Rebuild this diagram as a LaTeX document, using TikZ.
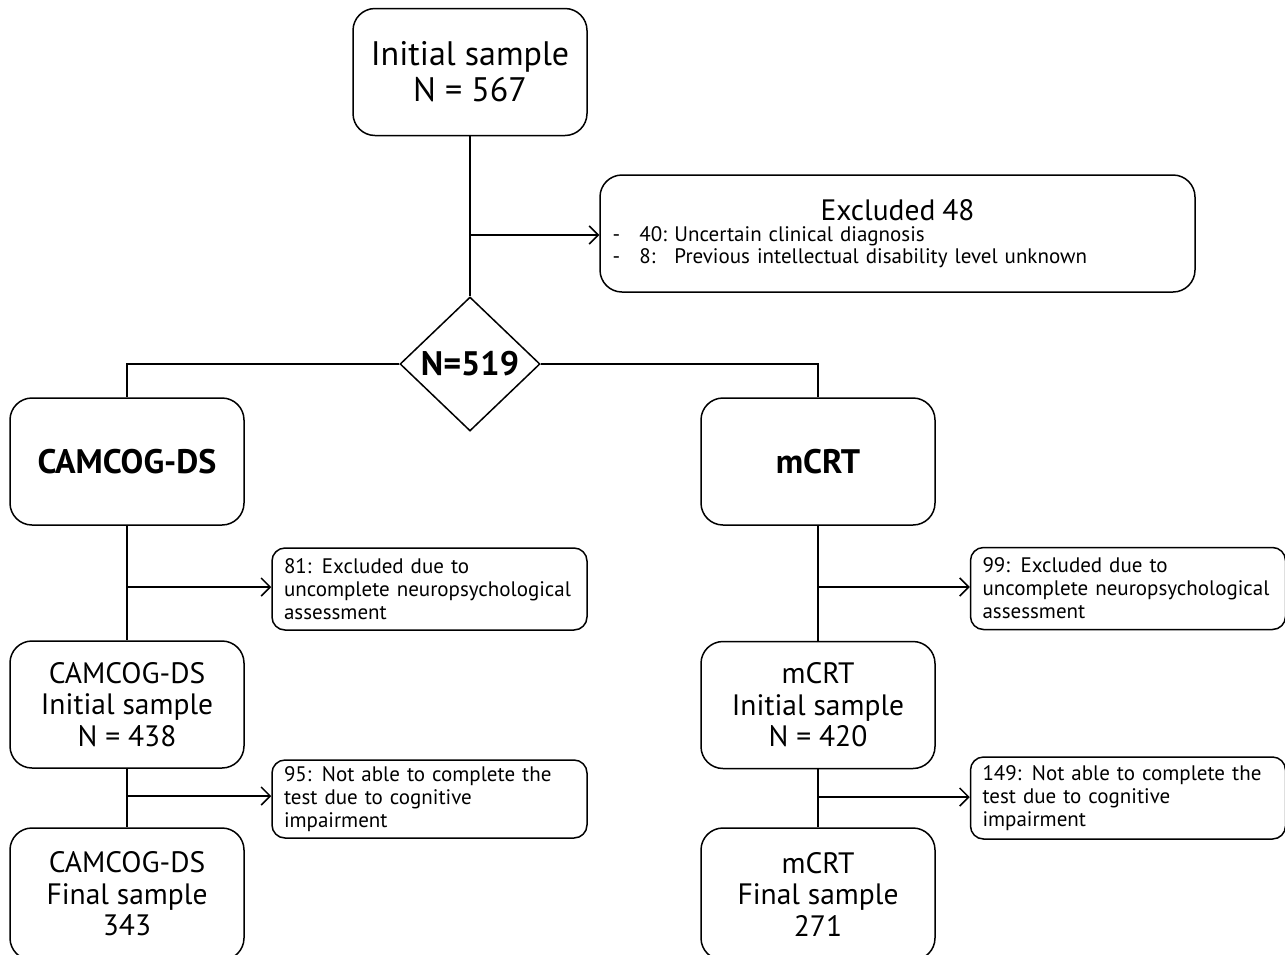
\documentclass[tikz,border=0pt]{standalone}
\usepackage{fontspec}
\setmainfont{PT Sans}
\usepackage{tikz}
\usetikzlibrary{positioning}
\usetikzlibrary{shapes.geometric}
\usetikzlibrary{arrows.meta}

\newcommand{\bigsize}{\fontsize{34}{36}\selectfont}
\newcommand{\midsize}{\fontsize{29.5}{31.5}\selectfont}
\newcommand{\notesize}{\fontsize{21}{23}\selectfont}
\newcommand{\headsize}{\fontsize{34}{36}\selectfont\bfseries}

\tikzset{
 stagebox/.style={draw, line width=1.5pt, rounded corners=22pt, align=center, minimum width=234pt, minimum height=127pt, inner sep=0pt},
 notebox/.style={draw, line width=1.5pt, rounded corners=13pt, align=left, text width=291pt, minimum height=82pt, inner xsep=12pt, inner ysep=0pt, font=\notesize},
 flow/.style={line width=1.5pt},
 flowarrow/.style={line width=1.5pt, -{Straight Barb[length=9pt,width=18pt]}}
}

\begin{document}
\begin{tikzpicture}[x=1pt,y=-1pt]

\useasboundingbox (0,0) rectangle (1285,954);

\node[stagebox, font=\bigsize] (init) at (470,72) {Initial sample\\N = 567};

\node[stagebox, minimum width=595pt, minimum height=117pt, text width=570pt, align=left, font=\notesize] (excl) at (897.5,233.5)
{{\centering\midsize Excluded 48\par}
 {\fontsize{21}{21.5}\selectfont\makebox[27pt][l]{-}\makebox[35pt][l]{40:}Uncertain clinical diagnosis\\
 \makebox[27pt][l]{-}\makebox[35pt][l]{8:}Previous intellectual disability level unknown\par}\vspace*{9pt}};

\node[diamond, draw, line width=1.5pt, minimum width=140pt, minimum height=134pt, inner sep=0pt, font=\headsize] (n519) at (470,364) {N=519};

\node[stagebox, font=\headsize] (camcog) at (127,461.5) {CAMCOG-DS};
\node[stagebox, font=\headsize] (mcrt) at (818,461.5) {mCRT};

\node[notebox] (ex81) at (429.5,589) {81: Excluded due to\\uncomplete neuropsychological\\assessment};
\node[notebox] (ex99) at (1128,588.5) {99: Excluded due to\\uncomplete neuropsychological\\assessment};

\node[stagebox, font=\midsize] (caminit) at (127,704.5) {CAMCOG-DS\\Initial sample\\N = 438};
\node[stagebox, font=\midsize] (mcrtinit) at (818,705) {mCRT\\Initial sample\\N = 420};

\node[notebox, minimum height=78pt] (ex95) at (429.5,799) {95: Not able to complete the\\test due to cognitive\\impairment};
\node[notebox] (ex149) at (1128,798) {149: Not able to complete the\\test due to cognitive\\impairment};

\node[stagebox, font=\midsize, minimum height=132pt] (camfinal) at (127,894) {CAMCOG-DS\\Final sample\\343};
\node[stagebox, font=\midsize, minimum height=132pt] (mcrtfinal) at (818,894) {mCRT\\Final sample\\271};

\coordinate (j0) at (470,235);
\coordinate (j1) at (127,587);
\coordinate (j2) at (127,796);
\coordinate (j3) at (818,587);
\coordinate (j4) at (818,797);

\draw[flow] (init.south)--(n519.north);
\draw[flowarrow] (j0)--(j0 -| excl.west);

\draw[flow] (n519.west) -| (camcog.north);
\draw[flow] (n519.east) -| (mcrt.north);

\draw[flow] (camcog.south)--(caminit.north);
\draw[flowarrow] (j1)--(j1 -| ex81.west);
\draw[flow] (caminit.south)--(camfinal.north);
\draw[flowarrow] (j2)--(j2 -| ex95.west);

\draw[flow] (mcrt.south)--(mcrtinit.north);
\draw[flowarrow] (j3)--(j3 -| ex99.west);
\draw[flow] (mcrtinit.south)--(mcrtfinal.north);
\draw[flowarrow] (j4)--(j4 -| ex149.west);

\end{tikzpicture}
\end{document}
